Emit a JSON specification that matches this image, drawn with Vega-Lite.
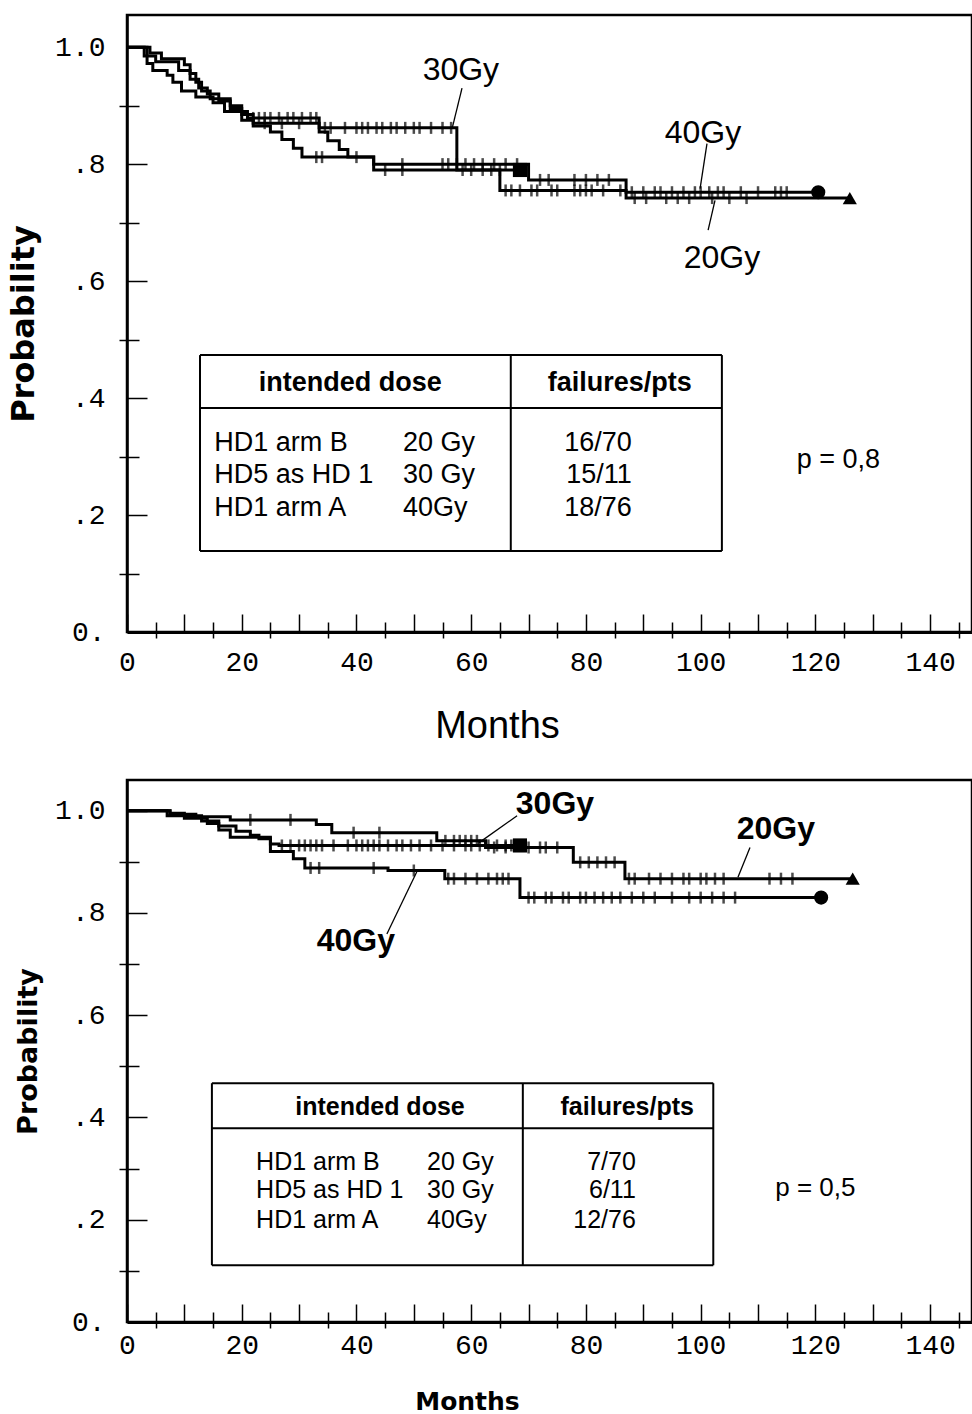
{
  "$schema": "https://vega.github.io/schema/vega-lite/v6.json",
  "background": "white",
  "padding": {"left": 6, "top": 13, "right": 0, "bottom": 0},
  "spacing": 31,
  "config": {
    "view": {"stroke": "black", "strokeWidth": 2.5},
    "axis": {"grid": false, "domainColor": "black", "tickColor": "black", "labelColor": "black", "titleColor": "black"},
    "text": {"font": "Liberation Sans", "color": "black"}
  },
  "datasets": {
    "km1": [
      {"g":"20Gy","t":0,"s":1},{"g":"20Gy","t":3.5,"s":0.972},{"g":"20Gy","t":4.5,"s":0.96},{"g":"20Gy","t":7,"s":0.952},{"g":"20Gy","t":8,"s":0.94},{"g":"20Gy","t":9.5,"s":0.925},{"g":"20Gy","t":12,"s":0.915},{"g":"20Gy","t":15,"s":0.905},{"g":"20Gy","t":17,"s":0.89},{"g":"20Gy","t":20,"s":0.875},{"g":"20Gy","t":22,"s":0.865},{"g":"20Gy","t":25,"s":0.855},{"g":"20Gy","t":27,"s":0.842},{"g":"20Gy","t":29,"s":0.827},{"g":"20Gy","t":30.5,"s":0.812},{"g":"20Gy","t":43,"s":0.79},{"g":"20Gy","t":65,"s":0.755},{"g":"20Gy","t":87,"s":0.742},{"g":"20Gy","t":126,"s":0.742},
      {"g":"30Gy","t":0,"s":1},{"g":"30Gy","t":4,"s":0.99},{"g":"30Gy","t":6,"s":0.98},{"g":"30Gy","t":10,"s":0.97},{"g":"30Gy","t":11,"s":0.955},{"g":"30Gy","t":12,"s":0.94},{"g":"30Gy","t":13,"s":0.925},{"g":"30Gy","t":14.5,"s":0.912},{"g":"30Gy","t":18,"s":0.9},{"g":"30Gy","t":20,"s":0.89},{"g":"30Gy","t":21,"s":0.879},{"g":"30Gy","t":33.5,"s":0.862},{"g":"30Gy","t":57.5,"s":0.79},{"g":"30Gy","t":68.5,"s":0.79},
      {"g":"40Gy","t":0,"s":1},{"g":"40Gy","t":3,"s":0.985},{"g":"40Gy","t":5,"s":0.975},{"g":"40Gy","t":9,"s":0.96},{"g":"40Gy","t":11,"s":0.945},{"g":"40Gy","t":12.5,"s":0.93},{"g":"40Gy","t":14,"s":0.92},{"g":"40Gy","t":16,"s":0.908},{"g":"40Gy","t":18,"s":0.895},{"g":"40Gy","t":20,"s":0.885},{"g":"40Gy","t":22,"s":0.87},{"g":"40Gy","t":33.5,"s":0.855},{"g":"40Gy","t":35,"s":0.84},{"g":"40Gy","t":37,"s":0.825},{"g":"40Gy","t":38.5,"s":0.812},{"g":"40Gy","t":43,"s":0.8},{"g":"40Gy","t":70,"s":0.773},{"g":"40Gy","t":87,"s":0.752},{"g":"40Gy","t":120.5,"s":0.752}
    ],
    "cens1": [
      {"g":"30Gy","t":22,"s":0.879},{"g":"30Gy","t":23,"s":0.879},{"g":"30Gy","t":24,"s":0.879},{"g":"30Gy","t":25,"s":0.879},{"g":"30Gy","t":26.5,"s":0.879},{"g":"30Gy","t":28,"s":0.879},{"g":"30Gy","t":29,"s":0.879},{"g":"30Gy","t":30.5,"s":0.879},{"g":"30Gy","t":32,"s":0.879},{"g":"30Gy","t":33,"s":0.879},
      {"g":"30Gy","t":34.5,"s":0.862},{"g":"30Gy","t":35.5,"s":0.862},{"g":"30Gy","t":38,"s":0.862},{"g":"30Gy","t":40,"s":0.862},{"g":"30Gy","t":41,"s":0.862},{"g":"30Gy","t":42,"s":0.862},{"g":"30Gy","t":43.5,"s":0.862},{"g":"30Gy","t":44.5,"s":0.862},{"g":"30Gy","t":46,"s":0.862},{"g":"30Gy","t":47,"s":0.862},{"g":"30Gy","t":48.5,"s":0.862},{"g":"30Gy","t":50,"s":0.862},{"g":"30Gy","t":51,"s":0.862},{"g":"30Gy","t":53,"s":0.862},{"g":"30Gy","t":55,"s":0.862},{"g":"30Gy","t":56.5,"s":0.862},
      {"g":"30Gy","t":58.5,"s":0.79},{"g":"30Gy","t":60,"s":0.79},{"g":"30Gy","t":62,"s":0.79},{"g":"30Gy","t":63.5,"s":0.79},{"g":"30Gy","t":65,"s":0.79},
      {"g":"40Gy","t":24,"s":0.87},{"g":"40Gy","t":27,"s":0.87},{"g":"40Gy","t":30,"s":0.87},{"g":"40Gy","t":40,"s":0.812},
      {"g":"40Gy","t":48,"s":0.8},{"g":"40Gy","t":55,"s":0.8},{"g":"40Gy","t":56,"s":0.8},{"g":"40Gy","t":57.5,"s":0.8},{"g":"40Gy","t":59,"s":0.8},{"g":"40Gy","t":60.5,"s":0.8},{"g":"40Gy","t":62,"s":0.8},{"g":"40Gy","t":64,"s":0.8},{"g":"40Gy","t":66,"s":0.8},{"g":"40Gy","t":68,"s":0.8},
      {"g":"40Gy","t":72,"s":0.773},{"g":"40Gy","t":73.5,"s":0.773},{"g":"40Gy","t":78,"s":0.773},{"g":"40Gy","t":80,"s":0.773},{"g":"40Gy","t":82,"s":0.773},{"g":"40Gy","t":84,"s":0.773},
      {"g":"40Gy","t":88,"s":0.752},{"g":"40Gy","t":90,"s":0.752},{"g":"40Gy","t":92,"s":0.752},{"g":"40Gy","t":93,"s":0.752},{"g":"40Gy","t":95,"s":0.752},{"g":"40Gy","t":97,"s":0.752},{"g":"40Gy","t":99,"s":0.752},{"g":"40Gy","t":100,"s":0.752},{"g":"40Gy","t":101.5,"s":0.752},{"g":"40Gy","t":103,"s":0.752},{"g":"40Gy","t":104,"s":0.752},{"g":"40Gy","t":107,"s":0.752},{"g":"40Gy","t":110,"s":0.752},{"g":"40Gy","t":113,"s":0.752},{"g":"40Gy","t":114,"s":0.752},{"g":"40Gy","t":115,"s":0.752},
      {"g":"20Gy","t":33,"s":0.812},{"g":"20Gy","t":34,"s":0.812},{"g":"20Gy","t":45,"s":0.79},{"g":"20Gy","t":48,"s":0.79},
      {"g":"20Gy","t":66,"s":0.755},{"g":"20Gy","t":67,"s":0.755},{"g":"20Gy","t":68.5,"s":0.755},{"g":"20Gy","t":70.5,"s":0.755},{"g":"20Gy","t":71.5,"s":0.755},{"g":"20Gy","t":74,"s":0.755},{"g":"20Gy","t":75,"s":0.755},{"g":"20Gy","t":78,"s":0.755},{"g":"20Gy","t":79,"s":0.755},{"g":"20Gy","t":80,"s":0.755},{"g":"20Gy","t":81,"s":0.755},{"g":"20Gy","t":83,"s":0.755},{"g":"20Gy","t":86,"s":0.755},
      {"g":"20Gy","t":88.5,"s":0.742},{"g":"20Gy","t":90.5,"s":0.742},{"g":"20Gy","t":94,"s":0.742},{"g":"20Gy","t":96,"s":0.742},{"g":"20Gy","t":98,"s":0.742},{"g":"20Gy","t":102,"s":0.742},{"g":"20Gy","t":105,"s":0.742},{"g":"20Gy","t":108,"s":0.742}
    ],
    "end1": [
      {"g":"20Gy","t":126,"s":0.742},{"g":"30Gy","t":68.5,"s":0.79},{"g":"40Gy","t":120.5,"s":0.752}
    ],
    "seg1": [
      {"kind":"box","t":12.73,"s":0.4735,"t2":103.7,"s2":0.4735},
      {"kind":"box","t":12.73,"s":0.1385,"t2":103.7,"s2":0.1385},
      {"kind":"box","t":12.73,"s":0.1385,"t2":12.73,"s2":0.4735},
      {"kind":"box","t":103.7,"s":0.1385,"t2":103.7,"s2":0.4735},
      {"kind":"box","t":12.73,"s":0.383,"t2":103.7,"s2":0.383},
      {"kind":"box","t":66.9,"s":0.1385,"t2":66.9,"s2":0.4735},
      {"kind":"pointer","t":58.4,"s":0.93,"t2":56.7,"s2":0.862},
      {"kind":"pointer","t":101.1,"s":0.835,"t2":99.9,"s2":0.758},
      {"kind":"pointer","t":102.5,"s":0.738,"t2":101.3,"s2":0.687}
    ],
    "txt1": [
      {"role":"label","t":58.2,"s":0.961,"label":"30Gy"},
      {"role":"label","t":100.4,"s":0.853,"label":"40Gy"},
      {"role":"label","t":103.7,"s":0.639,"label":"20Gy"},
      {"role":"header","t":38.9,"s":0.4256,"label":"intended dose"},
      {"role":"header","t":85.9,"s":0.4256,"label":"failures/pts"},
      {"role":"row","t":15.2,"s":0.323,"label":"HD1 arm B"},
      {"role":"row","t":48.1,"s":0.323,"label":"20 Gy"},
      {"role":"row","t":15.2,"s":0.268,"label":"HD5 as HD 1"},
      {"role":"row","t":48.1,"s":0.268,"label":"30 Gy"},
      {"role":"row","t":15.2,"s":0.212,"label":"HD1 arm A"},
      {"role":"row","t":48.1,"s":0.212,"label":"40Gy"},
      {"role":"frac","t":88.0,"s":0.323,"label":"16/70"},
      {"role":"frac","t":88.0,"s":0.268,"label":"15/11"},
      {"role":"frac","t":88.0,"s":0.212,"label":"18/76"},
      {"role":"p","t":124,"s":0.294,"label":"p = 0,8"}
    ],
    "km2": [
      {"g":"20Gy","t":0,"s":1},{"g":"20Gy","t":7.5,"s":0.993},{"g":"20Gy","t":12,"s":0.988},{"g":"20Gy","t":18,"s":0.982},{"g":"20Gy","t":33,"s":0.973},{"g":"20Gy","t":35.7,"s":0.957},{"g":"20Gy","t":54,"s":0.941},{"g":"20Gy","t":62.5,"s":0.928},{"g":"20Gy","t":77.8,"s":0.899},{"g":"20Gy","t":86.8,"s":0.867},{"g":"20Gy","t":126.5,"s":0.867},
      {"g":"30Gy","t":0,"s":1},{"g":"30Gy","t":7,"s":0.99},{"g":"30Gy","t":13,"s":0.98},{"g":"30Gy","t":16,"s":0.97},{"g":"30Gy","t":19,"s":0.96},{"g":"30Gy","t":21.5,"s":0.952},{"g":"30Gy","t":23,"s":0.945},{"g":"30Gy","t":25,"s":0.935},{"g":"30Gy","t":26.5,"s":0.932},{"g":"30Gy","t":68.5,"s":0.932},
      {"g":"40Gy","t":0,"s":1},{"g":"40Gy","t":7.5,"s":0.995},{"g":"40Gy","t":10,"s":0.985},{"g":"40Gy","t":14,"s":0.975},{"g":"40Gy","t":16,"s":0.962},{"g":"40Gy","t":18,"s":0.948},{"g":"40Gy","t":25,"s":0.92},{"g":"40Gy","t":29,"s":0.906},{"g":"40Gy","t":31,"s":0.888},{"g":"40Gy","t":45.5,"s":0.883},{"g":"40Gy","t":55.4,"s":0.867},{"g":"40Gy","t":68.5,"s":0.83},{"g":"40Gy","t":121,"s":0.83}
    ],
    "cens2": [
      {"g":"20Gy","t":21.5,"s":0.982},{"g":"20Gy","t":28.5,"s":0.982},{"g":"20Gy","t":39.5,"s":0.957},{"g":"20Gy","t":44,"s":0.957},
      {"g":"20Gy","t":55.5,"s":0.941},{"g":"20Gy","t":57,"s":0.941},{"g":"20Gy","t":58,"s":0.941},{"g":"20Gy","t":59,"s":0.941},{"g":"20Gy","t":60,"s":0.941},{"g":"20Gy","t":61,"s":0.941},
      {"g":"20Gy","t":64,"s":0.928},{"g":"20Gy","t":66,"s":0.928},{"g":"20Gy","t":70,"s":0.928},{"g":"20Gy","t":72,"s":0.928},{"g":"20Gy","t":73,"s":0.928},{"g":"20Gy","t":75,"s":0.928},
      {"g":"20Gy","t":79,"s":0.899},{"g":"20Gy","t":80.5,"s":0.899},{"g":"20Gy","t":82,"s":0.899},{"g":"20Gy","t":83.5,"s":0.899},{"g":"20Gy","t":85,"s":0.899},
      {"g":"20Gy","t":87.5,"s":0.867},{"g":"20Gy","t":88.5,"s":0.867},{"g":"20Gy","t":91,"s":0.867},{"g":"20Gy","t":93,"s":0.867},{"g":"20Gy","t":95,"s":0.867},{"g":"20Gy","t":97,"s":0.867},{"g":"20Gy","t":98,"s":0.867},{"g":"20Gy","t":100,"s":0.867},{"g":"20Gy","t":101,"s":0.867},{"g":"20Gy","t":102.5,"s":0.867},{"g":"20Gy","t":104,"s":0.867},{"g":"20Gy","t":112,"s":0.867},{"g":"20Gy","t":114,"s":0.867},{"g":"20Gy","t":116,"s":0.867},
      {"g":"30Gy","t":27,"s":0.932},{"g":"30Gy","t":28.5,"s":0.932},{"g":"30Gy","t":30,"s":0.932},{"g":"30Gy","t":31,"s":0.932},{"g":"30Gy","t":32,"s":0.932},{"g":"30Gy","t":33,"s":0.932},{"g":"30Gy","t":34,"s":0.932},{"g":"30Gy","t":36,"s":0.932},{"g":"30Gy","t":38.5,"s":0.932},{"g":"30Gy","t":40,"s":0.932},{"g":"30Gy","t":41,"s":0.932},{"g":"30Gy","t":42,"s":0.932},{"g":"30Gy","t":43,"s":0.932},{"g":"30Gy","t":44,"s":0.932},{"g":"30Gy","t":45.5,"s":0.932},{"g":"30Gy","t":47,"s":0.932},{"g":"30Gy","t":48,"s":0.932},{"g":"30Gy","t":49.5,"s":0.932},{"g":"30Gy","t":51,"s":0.932},{"g":"30Gy","t":53,"s":0.932},{"g":"30Gy","t":55,"s":0.932},{"g":"30Gy","t":57,"s":0.932},{"g":"30Gy","t":59,"s":0.932},{"g":"30Gy","t":60,"s":0.932},{"g":"30Gy","t":61.5,"s":0.932},{"g":"30Gy","t":63,"s":0.932},{"g":"30Gy","t":64.5,"s":0.932},{"g":"30Gy","t":66,"s":0.932},{"g":"30Gy","t":67,"s":0.932},
      {"g":"40Gy","t":32,"s":0.888},{"g":"40Gy","t":33.5,"s":0.888},{"g":"40Gy","t":43,"s":0.888},{"g":"40Gy","t":50,"s":0.883},
      {"g":"40Gy","t":56,"s":0.867},{"g":"40Gy","t":57,"s":0.867},{"g":"40Gy","t":59,"s":0.867},{"g":"40Gy","t":61,"s":0.867},{"g":"40Gy","t":63,"s":0.867},{"g":"40Gy","t":64.5,"s":0.867},{"g":"40Gy","t":65.5,"s":0.867},{"g":"40Gy","t":66.5,"s":0.867},
      {"g":"40Gy","t":70,"s":0.83},{"g":"40Gy","t":71,"s":0.83},{"g":"40Gy","t":73,"s":0.83},{"g":"40Gy","t":74,"s":0.83},{"g":"40Gy","t":76,"s":0.83},{"g":"40Gy","t":77,"s":0.83},{"g":"40Gy","t":79,"s":0.83},{"g":"40Gy","t":80,"s":0.83},{"g":"40Gy","t":81.5,"s":0.83},{"g":"40Gy","t":83,"s":0.83},{"g":"40Gy","t":84.5,"s":0.83},{"g":"40Gy","t":86,"s":0.83},{"g":"40Gy","t":88,"s":0.83},{"g":"40Gy","t":90,"s":0.83},{"g":"40Gy","t":92,"s":0.83},{"g":"40Gy","t":95,"s":0.83},{"g":"40Gy","t":98,"s":0.83},{"g":"40Gy","t":100,"s":0.83},{"g":"40Gy","t":102,"s":0.83},{"g":"40Gy","t":104,"s":0.83},{"g":"40Gy","t":106,"s":0.83}
    ],
    "end2": [
      {"g":"20Gy","t":126.5,"s":0.867},{"g":"30Gy","t":68.5,"s":0.932},{"g":"40Gy","t":121,"s":0.83}
    ],
    "seg2": [
      {"kind":"box","t":14.8,"s":0.467,"t2":102.2,"s2":0.467},
      {"kind":"box","t":14.8,"s":0.111,"t2":102.2,"s2":0.111},
      {"kind":"box","t":14.8,"s":0.111,"t2":14.8,"s2":0.467},
      {"kind":"box","t":102.2,"s":0.111,"t2":102.2,"s2":0.467},
      {"kind":"box","t":14.8,"s":0.379,"t2":102.2,"s2":0.379},
      {"kind":"box","t":69.0,"s":0.111,"t2":69.0,"s2":0.467},
      {"kind":"pointer","t":68.0,"s":0.99,"t2":61.2,"s2":0.936},
      {"kind":"pointer","t":108.6,"s":0.928,"t2":106.5,"s2":0.87},
      {"kind":"pointer","t":50.5,"s":0.88,"t2":45.3,"s2":0.759}
    ],
    "txt2": [
      {"role":"label","t":74.6,"s":1.014,"label":"30Gy"},
      {"role":"label","t":113.1,"s":0.965,"label":"20Gy"},
      {"role":"label","t":39.9,"s":0.746,"label":"40Gy"},
      {"role":"header","t":44.1,"s":0.42,"label":"intended dose"},
      {"role":"header","t":87.2,"s":0.42,"label":"failures/pts"},
      {"role":"row","t":22.5,"s":0.3125,"label":"HD1 arm B"},
      {"role":"row","t":52.3,"s":0.3125,"label":"20 Gy"},
      {"role":"row","t":22.5,"s":0.258,"label":"HD5 as HD 1"},
      {"role":"row","t":52.3,"s":0.258,"label":"30 Gy"},
      {"role":"row","t":22.5,"s":0.199,"label":"HD1 arm A"},
      {"role":"row","t":52.3,"s":0.199,"label":"40Gy"},
      {"role":"frac","t":88.7,"s":0.3125,"label":"7/70"},
      {"role":"frac","t":88.7,"s":0.258,"label":"6/11"},
      {"role":"frac","t":88.7,"s":0.199,"label":"12/76"},
      {"role":"p","t":120,"s":0.262,"label":"p = 0,5"}
    ]
  },
  "vconcat": [
    {
      "width": 845,
      "height": 617,
      "resolve": {"axis": {"x": "independent", "y": "independent"}},
      "layer": [
        {
          "encoding": {
            "x": {"field": "t", "type": "quantitative",
              "scale": {"domain": [0, 147.3], "nice": false, "zero": false},
              "axis": {"orient": "bottom", "title": "Months", "titleFont": "Liberation Sans", "titleFontSize": 38, "titleFontWeight": "normal", "titleX": 370, "titlePadding": 31,
                "values": [0,10,20,30,40,50,60,70,80,90,100,110,120,130,140],
                "format": "d", "labelExpr": "datum.value % 20 == 0 ? datum.label : ''",
                "labelFont": "Liberation Mono", "labelFontSize": 28, "labelFlush": false, "labelOverlap": false,
                "tickSize": -18, "tickWidth": 1.5, "labelPadding": 34, "domainWidth": 3}},
            "y": {"field": "s", "type": "quantitative",
              "scale": {"domain": [0, 1.055], "nice": false, "zero": false},
              "axis": {"orient": "left", "title": "Probability", "titleFont": "DejaVu Sans", "titleFontSize": 32, "titleFontWeight": "bold", "titlePadding": 14,
                "values": [0,0.2,0.4,0.6,0.8,1],
                "labelExpr": "datum.value == 1 ? '1.0' : datum.value == 0 ? '0.' : '.' + round(datum.value*10)",
                "labelFont": "Liberation Mono", "labelFontSize": 28, "labelFlush": false, "labelOverlap": false,
                "tickSize": -20, "tickWidth": 1.5, "labelPadding": 42, "domainWidth": 2.5}}
          },
          "layer": [
            {"data": {"name": "km1"}, "mark": {"type": "line", "interpolate": "step-after", "color": "black", "strokeWidth": 3}, "encoding": {"detail": {"field": "g"}}},
            {"data": {"name": "cens1"}, "mark": {"type": "tick", "orient": "vertical", "color": "black", "size": 12, "thickness": 2.5}},
            {"data": {"name": "seg1"}, "transform": [{"filter": "datum.kind == 'box'"}], "mark": {"type": "rule", "color": "black", "strokeWidth": 2},
              "encoding": {"x2": {"field": "t2"}, "y2": {"field": "s2"}}},
            {"data": {"name": "seg1"}, "transform": [{"filter": "datum.kind == 'pointer'"}], "mark": {"type": "rule", "color": "black", "strokeWidth": 1.3},
              "encoding": {"x2": {"field": "t2"}, "y2": {"field": "s2"}}},
            {"data": {"name": "txt1"}, "transform": [{"filter": "datum.role == 'label'"}], "mark": {"type": "text", "font": "Liberation Sans", "fontSize": 32, "align": "center", "baseline": "middle"},
              "encoding": {"text": {"field": "label"}}},
            {"data": {"name": "txt1"}, "transform": [{"filter": "datum.role == 'header'"}], "mark": {"type": "text", "font": "Liberation Sans", "fontSize": 27, "fontWeight": "bold", "align": "center", "baseline": "middle"},
              "encoding": {"text": {"field": "label"}}},
            {"data": {"name": "txt1"}, "transform": [{"filter": "datum.role == 'row'"}], "mark": {"type": "text", "font": "Liberation Sans", "fontSize": 27, "align": "left", "baseline": "middle"},
              "encoding": {"text": {"field": "label"}}},
            {"data": {"name": "txt1"}, "transform": [{"filter": "datum.role == 'frac'"}], "mark": {"type": "text", "font": "Liberation Sans", "fontSize": 27, "align": "right", "baseline": "middle"},
              "encoding": {"text": {"field": "label"}}},
            {"data": {"name": "txt1"}, "transform": [{"filter": "datum.role == 'p'"}], "mark": {"type": "text", "font": "Liberation Sans", "fontSize": 27, "align": "center", "baseline": "middle"},
              "encoding": {"text": {"field": "label"}}}
          ]
        },
        {
          "data": {"name": "end1"},
          "mark": {"type": "point", "filled": true, "color": "black", "size": 200, "opacity": 1},
          "encoding": {
            "x": {"field": "t", "type": "quantitative",
              "scale": {"domain": [0, 147.3], "nice": false, "zero": false},
              "axis": {"orient": "bottom", "title": null, "labels": false, "domain": false, "offset": 6,
                "values": [5,15,25,35,45,55,65,75,85,95,105,115,125,135,145],
                "tickSize": -16, "tickWidth": 1.5}},
            "y": {"field": "s", "type": "quantitative",
              "scale": {"domain": [0, 1.055], "nice": false, "zero": false},
              "axis": {"orient": "left", "title": null, "labels": false, "domain": false, "offset": 8,
                "values": [0.1,0.3,0.5,0.7,0.9],
                "tickSize": -20, "tickWidth": 1.5}},
            "shape": {"field": "g", "type": "nominal", "scale": {"domain": ["20Gy","30Gy","40Gy"], "range": ["triangle-up","square","circle"]}, "legend": null}
          }
        }
      ]
    },
    {
      "width": 845,
      "height": 542,
      "resolve": {"axis": {"x": "independent", "y": "independent"}},
      "layer": [
        {
          "encoding": {
            "x": {"field": "t", "type": "quantitative",
              "scale": {"domain": [0, 147.3], "nice": false, "zero": false},
              "axis": {"orient": "bottom", "title": "Months", "titleFont": "DejaVu Sans", "titleFontSize": 25, "titleFontWeight": "bold", "titleX": 340, "titlePadding": 30,
                "values": [0,10,20,30,40,50,60,70,80,90,100,110,120,130,140],
                "format": "d", "labelExpr": "datum.value % 20 == 0 ? datum.label : ''",
                "labelFont": "Liberation Mono", "labelFontSize": 28, "labelFlush": false, "labelOverlap": false,
                "tickSize": -18, "tickWidth": 1.5, "labelPadding": 27, "domainWidth": 3}},
            "y": {"field": "s", "type": "quantitative",
              "scale": {"domain": [0, 1.06], "nice": false, "zero": false},
              "axis": {"orient": "left", "title": "Probability", "titleFont": "DejaVu Sans", "titleFontSize": 27, "titleFontWeight": "bold", "titlePadding": 12,
                "values": [0,0.2,0.4,0.6,0.8,1],
                "labelExpr": "datum.value == 1 ? '1.0' : datum.value == 0 ? '0.' : '.' + round(datum.value*10)",
                "labelFont": "Liberation Mono", "labelFontSize": 28, "labelFlush": false, "labelOverlap": false,
                "tickSize": -20, "tickWidth": 1.5, "labelPadding": 42, "domainWidth": 2.5}}
          },
          "layer": [
            {"data": {"name": "km2"}, "mark": {"type": "line", "interpolate": "step-after", "color": "black", "strokeWidth": 3}, "encoding": {"detail": {"field": "g"}}},
            {"data": {"name": "cens2"}, "mark": {"type": "tick", "orient": "vertical", "color": "black", "size": 12, "thickness": 2.5}},
            {"data": {"name": "seg2"}, "transform": [{"filter": "datum.kind == 'box'"}], "mark": {"type": "rule", "color": "black", "strokeWidth": 2},
              "encoding": {"x2": {"field": "t2"}, "y2": {"field": "s2"}}},
            {"data": {"name": "seg2"}, "transform": [{"filter": "datum.kind == 'pointer'"}], "mark": {"type": "rule", "color": "black", "strokeWidth": 1.3},
              "encoding": {"x2": {"field": "t2"}, "y2": {"field": "s2"}}},
            {"data": {"name": "txt2"}, "transform": [{"filter": "datum.role == 'label'"}], "mark": {"type": "text", "font": "Liberation Sans", "fontSize": 32, "fontWeight": "bold", "align": "center", "baseline": "middle"},
              "encoding": {"text": {"field": "label"}}},
            {"data": {"name": "txt2"}, "transform": [{"filter": "datum.role == 'header'"}], "mark": {"type": "text", "font": "Liberation Sans", "fontSize": 25, "fontWeight": "bold", "align": "center", "baseline": "middle"},
              "encoding": {"text": {"field": "label"}}},
            {"data": {"name": "txt2"}, "transform": [{"filter": "datum.role == 'row'"}], "mark": {"type": "text", "font": "Liberation Sans", "fontSize": 25, "align": "left", "baseline": "middle"},
              "encoding": {"text": {"field": "label"}}},
            {"data": {"name": "txt2"}, "transform": [{"filter": "datum.role == 'frac'"}], "mark": {"type": "text", "font": "Liberation Sans", "fontSize": 25, "align": "right", "baseline": "middle"},
              "encoding": {"text": {"field": "label"}}},
            {"data": {"name": "txt2"}, "transform": [{"filter": "datum.role == 'p'"}], "mark": {"type": "text", "font": "Liberation Sans", "fontSize": 26, "align": "center", "baseline": "middle"},
              "encoding": {"text": {"field": "label"}}}
          ]
        },
        {
          "data": {"name": "end2"},
          "mark": {"type": "point", "filled": true, "color": "black", "size": 200, "opacity": 1},
          "encoding": {
            "x": {"field": "t", "type": "quantitative",
              "scale": {"domain": [0, 147.3], "nice": false, "zero": false},
              "axis": {"orient": "bottom", "title": null, "labels": false, "domain": false, "offset": 6,
                "values": [5,15,25,35,45,55,65,75,85,95,105,115,125,135,145],
                "tickSize": -16, "tickWidth": 1.5}},
            "y": {"field": "s", "type": "quantitative",
              "scale": {"domain": [0, 1.06], "nice": false, "zero": false},
              "axis": {"orient": "left", "title": null, "labels": false, "domain": false, "offset": 8,
                "values": [0.1,0.3,0.5,0.7,0.9],
                "tickSize": -20, "tickWidth": 1.5}},
            "shape": {"field": "g", "type": "nominal", "scale": {"domain": ["20Gy","30Gy","40Gy"], "range": ["triangle-up","square","circle"]}, "legend": null}
          }
        }
      ]
    }
  ]
}
